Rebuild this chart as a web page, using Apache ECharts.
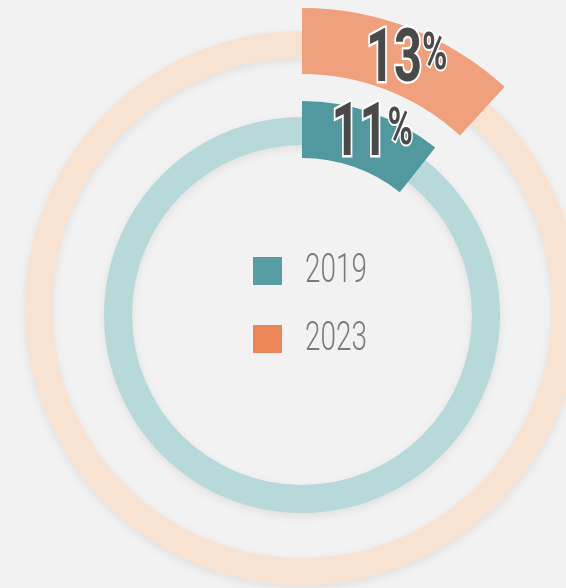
<!DOCTYPE html>
<html>
<head>
<meta charset="utf-8">
<script src="https://cdn.jsdelivr.net/npm/echarts@6/dist/echarts.min.js"></script>
<style>
  html, body { margin: 0; padding: 0; background: #f2f2f2; }
  #chart { width: 566px; height: 588px; }
</style>
</head>
<body>
<div id="chart"></div>
<script>
const years = ['2019', '2023'];
const labelPct = [11, 13];        // printed percentages
const arcPct = [10.7, 11.8];      // arc length as drawn in the picture
const segColors = ['#52999f', '#f0a07c'];
const trackColors = ['#b8d9da', '#f8e3d3'];
const legendColors = ['#579ea4', '#ec8557'];

// ring geometry (px)
const centers = [[302, 315], [302, 308]];
const trackRadius = [[170, 198], [250, 277]];
const segRadius = [[157, 214], [234, 300]];

const chart = echarts.init(document.getElementById('chart'));
const font = 'Roboto, "Liberation Sans", sans-serif';

function track(i) {
  return {
    type: 'pie',
    silent: true,
    center: centers[i],
    radius: trackRadius[i],
    startAngle: 90,
    label: { show: false },
    labelLine: { show: false },
    itemStyle: {
      color: trackColors[i],
      shadowColor: 'rgba(0,0,0,0.08)',
      shadowBlur: 10,
      shadowOffsetY: 3
    },
    data: [{ value: 100, name: 'track' + years[i] }]
  };
}

function segment(i) {
  return {
    type: 'pie',
    silent: true,
    center: centers[i],
    radius: segRadius[i],
    startAngle: 90,
    clockwise: true,
    label: { show: false },
    labelLine: { show: false },
    data: [
      { value: arcPct[i], name: years[i], itemStyle: { color: segColors[i] } },
      { value: 100 - arcPct[i], name: 'rest' + years[i], itemStyle: { color: 'rgba(0,0,0,0)' } }
    ]
  };
}

// percentage labels: placed at the middle of each highlighted arc, squeezed to a condensed look
const labelShift = [[9, -3], [8, 3]];
function pctLabel(i) {
  const mid = (arcPct[i] / 100) * Math.PI; // half the arc, radians from 12 o'clock
  const rm = (segRadius[i][0] + segRadius[i][1]) / 2;
  return {
    type: 'text',
    x: centers[i][0] + Math.sin(mid) * rm + labelShift[i][0],
    y: centers[i][1] - Math.cos(mid) * rm + labelShift[i][1],
    scaleX: 0.66,
    z: 10,
    style: {
      text: '{n|' + labelPct[i] + '}{p|%}',
      align: 'center',
      verticalAlign: 'middle',
      rich: {
        n: {
          fontFamily: font, fontWeight: 'bold', fontSize: 74,
          fill: '#4a4a4a', stroke: '#ffffff', lineWidth: 5
        },
        p: {
          fontFamily: font, fontWeight: 'bold', fontSize: 52,
          fill: '#4a4a4a', stroke: '#ffffff', lineWidth: 4,
          padding: [0, 0, 12, 0]
        }
      }
    }
  };
}

// legend layout
const legendLeft = 253, legendTop = 257, boxW = 29, boxH = 28, rowGap = 40;
function legendText(i) {
  return {
    type: 'text',
    x: 305,
    y: legendTop + boxH / 2 + i * (boxH + rowGap) + 1,
    scaleX: 0.68,
    style: {
      text: years[i],
      fontFamily: font, fontWeight: 300, fontSize: 41,
      fill: '#7b7b7b',
      align: 'left',
      verticalAlign: 'middle'
    }
  };
}

const option = {
  animation: false,
  backgroundColor: '#f2f2f2',
  legend: {
    orient: 'vertical',
    left: legendLeft,
    top: legendTop,
    padding: 0,
    icon: 'rect',
    itemWidth: boxW,
    itemHeight: boxH,
    itemGap: rowGap,
    selectedMode: false,
    formatter: () => '',
    data: years.map((y, i) => ({ name: y, itemStyle: { color: legendColors[i] } }))
  },
  graphic: [pctLabel(1), pctLabel(0), legendText(0), legendText(1)],
  series: [track(1), track(0), segment(1), segment(0)]
};

chart.setOption(option);
</script>
</body>
</html>
